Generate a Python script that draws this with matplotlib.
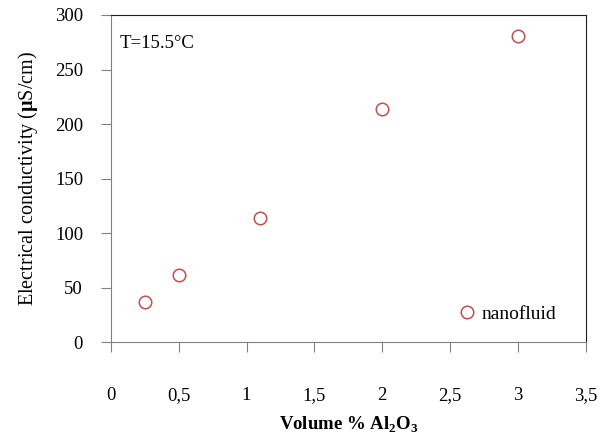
import matplotlib
matplotlib.use("Agg")
import matplotlib.pyplot as plt

plt.rcParams['font.family'] = ['Liberation Serif', 'DejaVu Serif']
plt.rcParams['mathtext.fontset'] = 'custom'
plt.rcParams['mathtext.rm'] = 'Liberation Serif'
plt.rcParams['mathtext.bf'] = 'Liberation Serif:bold'

# Datos
volumen = [0.25, 0.5, 1.1, 2.0, 3.0]
conductividad = [37, 62, 114, 214, 281]
xticks = [0, 0.5, 1, 1.5, 2, 2.5, 3, 3.5]
xticklabels = ['0', '0,5', '1', '1,5', '2', '2,5', '3', '3,5']
yticks = [0, 50, 100, 150, 200, 250, 300]

fig = plt.figure(figsize=(6.09, 4.41), dpi=100)
ax = fig.add_axes([0.182, 0.224, 0.780, 0.742])

ax.plot(volumen, conductividad, linestyle='none', marker='o', markersize=9,
        markerfacecolor='none', markeredgecolor='#c0504d', markeredgewidth=1.1,
        label='nanofluid')

ax.set_xlim(0, 3.5)
ax.set_ylim(0, 300)
ax.set_xticks(xticks)
ax.set_xticklabels(xticklabels)
ax.set_yticks(yticks)

ax.tick_params(axis='x', direction='out', length=7, pad=25, labelsize=13.5,
               color='#808080')
ax.tick_params(axis='y', direction='out', length=7, pad=13, labelsize=13.5,
               color='#808080')

ax.spines['left'].set_color('#808080')
ax.spines['bottom'].set_color('#808080')
ax.spines['top'].set_color('#202020')
ax.spines['right'].set_color('#202020')

ax.set_ylabel('Electrical conductivity ($\\mathbf{\\mu}$S/cm)', fontsize=14.5,
              labelpad=11)
ax.set_xlabel('Volume % Al$_\\mathbf{2}$O$_\\mathbf{3}$', fontsize=13.5,
              fontweight='bold', labelpad=8)

ax.text(0.018, 0.9, 'T=15.5°C', transform=ax.transAxes, fontsize=13.5)

ax.legend(loc='lower right', frameon=False, fontsize=14, handlelength=1.0,
          handletextpad=0.25, bbox_to_anchor=(0.975, 0.005))

plt.savefig('out.png', dpi=100)
